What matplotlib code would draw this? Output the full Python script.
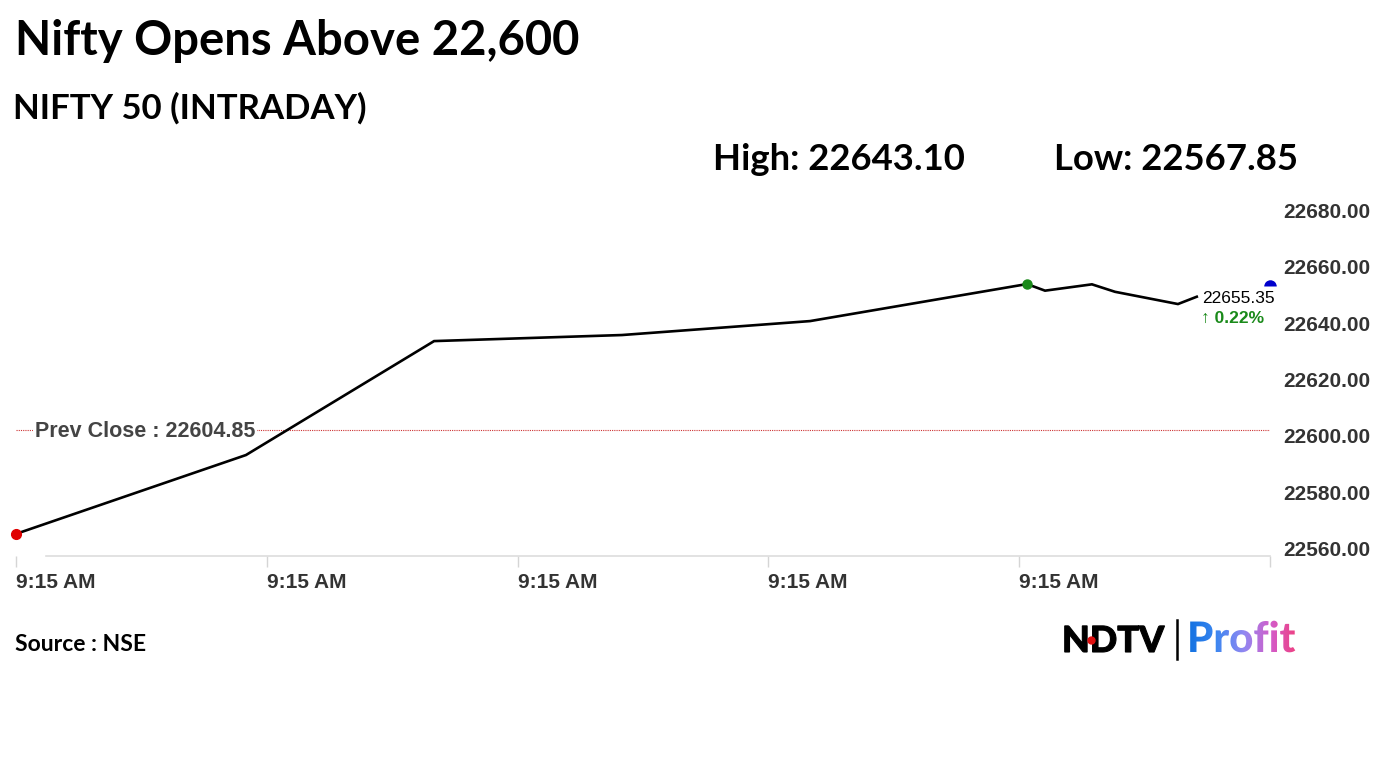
import matplotlib
matplotlib.use("Agg")
import matplotlib.pyplot as plt
import numpy as np
from matplotlib.textpath import TextPath
from matplotlib.patches import PathPatch
from matplotlib.font_manager import FontProperties
from matplotlib.colors import LinearSegmentedColormap

# ---- data ----
x_pos = [0.0, 0.917, 1.667, 2.416, 3.166, 4.031, 4.103, 4.290, 4.382, 4.633, 4.708]
prices = [22567.85, 22595.85, 22636.3, 22638.45, 22643.4, 22656.55, 22654.2,
          22656.45, 22653.8, 22649.45, 22652.05]
last_x = 5.0
last_price = 22655.35
change_pct = "0.22%"
prev_close = 22604.85
x_ticks = [0, 1, 2, 3, 4, 5]
x_tick_labels = ["9:15 AM", "9:15 AM", "9:15 AM", "9:15 AM", "9:15 AM", ""]
y_ticks = [22560, 22580, 22600, 22620, 22640, 22660, 22680]
high_val = "22643.10"
low_val = "22567.85"

W, H = 1382, 777
fig = plt.figure(figsize=(W / 100, H / 100), dpi=100)
fig.patch.set_facecolor("white")

def fx(px):
    return px / W

def fy(py):
    return 1 - py / H

ax_l, ax_r, ax_t, ax_b = 16, 1270, 218, 556
ax = fig.add_axes([fx(ax_l), fy(ax_b), (ax_r - ax_l) / W, (ax_b - ax_t) / H])
ax.set_xlim(0, 5)
ax.set_ylim(22560, 22680)
for s in ["top", "left", "right"]:
    ax.spines[s].set_visible(False)
ax.spines["bottom"].set_color("#dddddd")
ax.spines["bottom"].set_linewidth(1.2)
ax.spines["bottom"].set_bounds(0.12, 5)

ax.plot(x_pos, prices, color="black", lw=1.9, solid_joinstyle="miter", zorder=3)
ax.plot([x_pos[0]], [prices[0]], "o", color="#e00000", ms=7, clip_on=False, zorder=5)
imax = int(np.argmax(prices))
ax.plot([x_pos[imax]], [prices[imax]], "o", color="#1a8a1a", ms=6.5, clip_on=False, zorder=5)
ax.plot([last_x], [last_price + 0.6], "o", color="#0000cc", ms=9, fillstyle="top",
        markeredgewidth=0, clip_on=False, zorder=5)

# prev close
ax.axhline(prev_close, color="#cc3333", lw=0.8, ls=(0, (1, 1)), zorder=2)
ax.text(0.075, prev_close - 0.6, "Prev Close : 22604.85", fontsize=15.5, fontweight="bold",
        family="Liberation Sans", color="#444444", va="center", ha="left",
        bbox=dict(facecolor="white", edgecolor="none", pad=1.5), zorder=4)

# last value labels
ax.text(4.73, last_price - 3.8, f"{last_price:.2f}", fontsize=12.5, family="Liberation Sans",
        color="black", va="center", ha="left", zorder=6)
ax.text(4.725, last_price - 11.0, "\u2191 " + change_pct, fontsize=12.5, fontweight="bold",
        family=["Liberation Sans", "DejaVu Sans"], color="#1a8a1a", va="center", ha="left", zorder=6)

# ticks
ax.set_xticks(x_ticks)
ax.set_xticklabels(x_tick_labels)
ax.tick_params(axis="x", length=8, width=1, color="#d5d5d5", pad=4, labelsize=15,
               labelcolor="#333333")
for lbl in ax.get_xticklabels():
    lbl.set_ha("left")
    lbl.set_fontweight("bold")
    lbl.set_family("Liberation Sans")

ax.yaxis.tick_right()
ax.set_yticks(y_ticks)
ax.set_yticklabels([f"{v:.2f}" for v in y_ticks])
ax.tick_params(axis="y", length=0, pad=9.5, labelsize=15, labelcolor="#333333")
for lbl in ax.get_yticklabels():
    lbl.set_va("baseline")
    lbl.set_fontweight("bold")
    lbl.set_family("Liberation Sans")

# titles
fig.text(fx(15), fy(55), "Nifty Opens Above 22,600", fontsize=34, fontweight="bold",
         family="Lato", color="black", va="baseline", ha="left")
fig.text(fx(13), fy(119), "NIFTY 50 (INTRADAY)", fontsize=25, fontweight="bold",
         family="Lato", color="black", va="baseline", ha="left")
fig.text(fx(713), fy(170), f"High: {high_val}", fontsize=26.3, fontweight="bold",
         family="Lato", color="black", va="baseline", ha="left")
fig.text(fx(1054), fy(170), f"Low: {low_val}", fontsize=26.3, fontweight="bold",
         family="Lato", color="black", va="baseline", ha="left")
fig.text(fx(15), fy(651), "Source : NSE", fontsize=16.5, fontweight="bold",
         family="Lato", color="black", va="baseline", ha="left")

# logo
lx0, ly0, lw, lh = 1050, 610, 260, 60
lax = fig.add_axes([fx(lx0), fy(ly0 + lh), lw / W, lh / H])
lax.set_xlim(0, lw)
lax.set_ylim(0, lh)
lax.axis("off")
base = (ly0 + lh) - 652
ndtv = TextPath((12, base), "NDTV", size=36, prop=FontProperties(family="Lato", weight="black"))
lax.add_patch(PathPatch(ndtv, facecolor="black", edgecolor="black", lw=0.8))
lax.plot([41], [(ly0 + lh) - 640], "o", color="#e01010", ms=5)
lax.plot([127, 127], [(ly0 + lh) - 659, (ly0 + lh) - 620], color="black", lw=1.8)
prof = TextPath((137, base), "Profit", size=42, prop=FontProperties(family="Lato", weight="black"))
pp = PathPatch(prof, facecolor="none", edgecolor="none")
lax.add_patch(pp)
cmap = LinearSegmentedColormap.from_list("g", ["#1070e0", "#3a86f0", "#9088f2", "#d45cc8", "#f23c78"])
grad = np.linspace(0, 1, 256).reshape(1, -1)
im = lax.imshow(grad, cmap=cmap, extent=[137, 250, base - 12, base + 34], aspect="auto", zorder=3)
im.set_clip_path(pp)

fig.savefig("out.png", dpi=100, facecolor="white")
